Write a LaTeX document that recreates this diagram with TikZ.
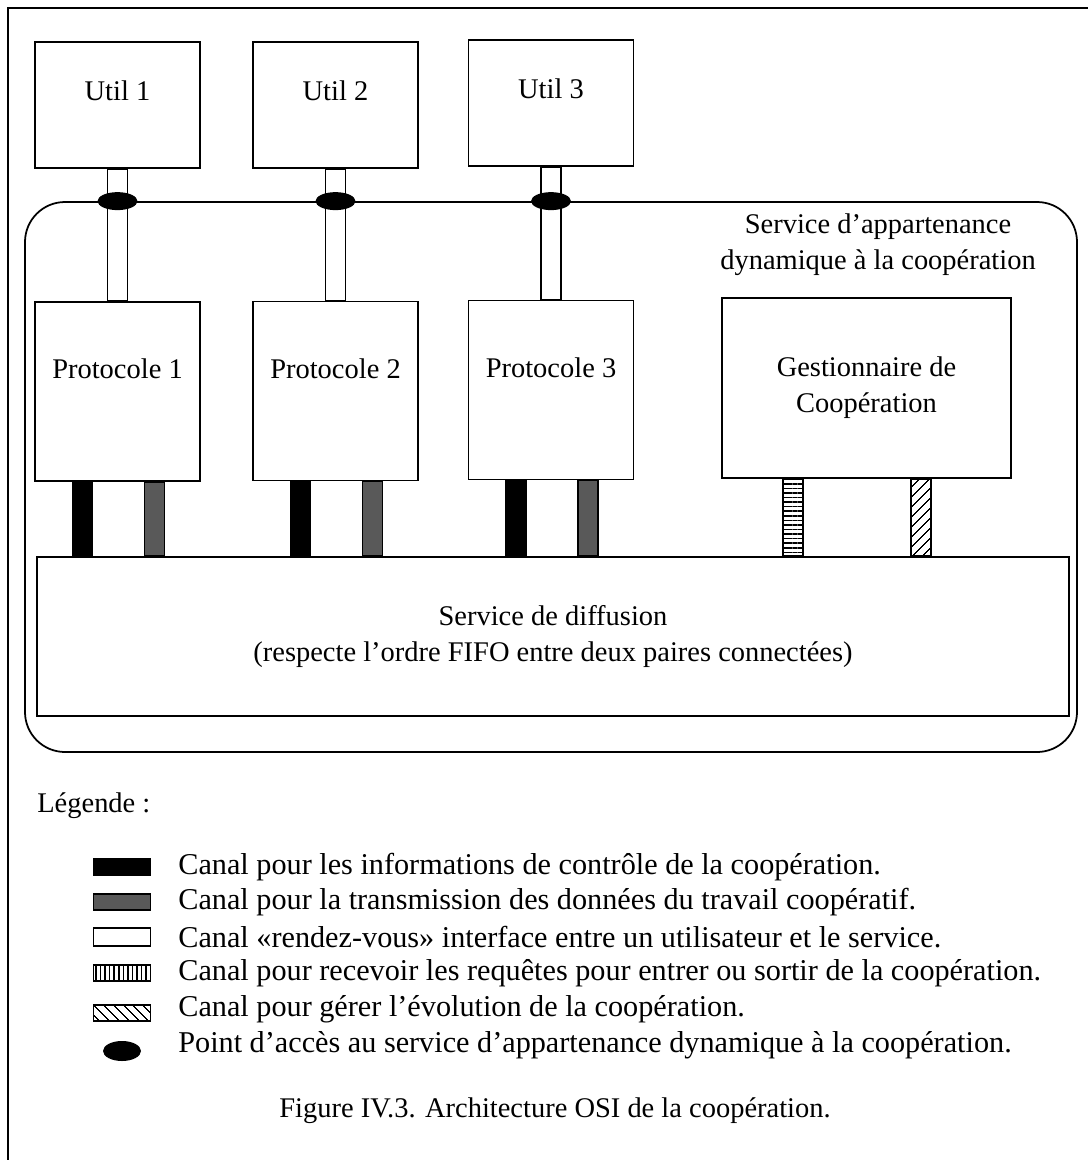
\documentclass[tikz,border=0pt]{standalone}
\usepackage{fontspec}
\setmainfont{Liberation Serif}
\usepackage{tikz}
\usetikzlibrary{positioning, shapes.geometric, patterns.meta}

\begin{document}
\begin{tikzpicture}[
  font=\fontsize{16.2}{20.4}\selectfont,
  box/.style={draw, align=center, line width=1pt, inner sep=0pt},
  util/.style={box, minimum width=3.3cm, minimum height=2.52cm,
    text height=0.36cm, text depth=0.53cm},
  proto/.style={box, minimum width=3.3cm, minimum height=3.58cm,
    text height=0.36cm, text depth=0.87cm},
  member/.style={draw, line width=1pt, rounded corners=0.8cm},
  access/.style={ellipse, fill=black, inner sep=0pt,
    minimum width=0.8cm, minimum height=0.36cm},
  chan/.style={draw, line width=1.1pt},
  ctrl/.style={chan, fill=black},
  data/.style={chan, fill=black!65},
  rdv/.style={chan, fill=white},
  joinchan/.style={chan, pattern={Lines[angle=0, distance=2.6pt, line width=0.9pt]}},
  evolchan/.style={chan, pattern={Lines[angle=45, distance=4pt, line width=0.7pt]}},
  icon/.style={minimum width=1.14cm, minimum height=0.32cm, inner sep=0pt},
  legtext/.style={anchor=west, inner sep=0pt, font=\fontsize{17.2}{20.4}\selectfont}
]
  \useasboundingbox (0,0) rectangle (21.76,-23.2);
  \draw[line width=1pt] (0.16,-23.2) |- (21.76,-0.16);

  % users
  \node[util] (u1) at (2.35,-2.1) {Util 1};
  \node[util] (u2) at (6.71,-2.1) {Util 2};
  \node[util] (u3) at (11.02,-2.06) {Util 3};

  % membership service
  \node[member, minimum width=21.04cm, minimum height=11cm] (svc) at (11.02,-9.54) {};
  \node[align=center] (svclab) at (17.56,-4.9)
    {Service d’appartenance\\dynamique à la coopération};

  \node[proto] (p1) at (2.35,-7.83) {Protocole 1};
  \node[proto] (p2) at (6.71,-7.82) {Protocole 2};
  \node[proto] (p3) at (11.02,-7.8) {Protocole 3};
  \node[box, minimum width=5.78cm, minimum height=3.6cm] (gc) at (17.33,-7.76)
    {Gestionnaire de\\Coopération};

  \node[box, minimum width=20.64cm, minimum height=3.18cm] (diff) at (11.06,-12.73)
    {Service de diffusion\\(respecte l’ordre FIFO entre deux paires connectées)};

  % channels
  \foreach \u/\p in {u1/p1, u2/p2, u3/p3}
    \draw[rdv] ([xshift=-0.2cm]\u.south) rectangle ([xshift=0.2cm]\p.north);
  \foreach \u [count=\i] in {u1, u2, u3}
    \node[access] (a\i) at (svc.north -| \u) {};

  \foreach \p in {p1, p2, p3} {
    \draw[ctrl] ([xshift=-0.9cm]\p.south) rectangle ([xshift=-0.5cm]\p.south |- diff.north);
    \draw[data] ([xshift=0.54cm]\p.south) rectangle ([xshift=0.94cm]\p.south |- diff.north);
  }
  \draw[joinchan] ([xshift=-1.67cm]gc.south) rectangle ([xshift=-1.27cm]gc.south |- diff.north);
  \draw[evolchan] ([xshift=0.89cm]gc.south) rectangle ([xshift=1.29cm]gc.south |- diff.north);

  % legend
  \node[legtext, font=\fontsize{16.2}{20.4}\selectfont] (leg) at (0.74,-16.12) {Légende :};

  \node[icon, ctrl] (k1) at (2.44,-17.34) {};
  \node[icon, data] (k2) at (2.44,-18.04) {};
  \node[icon, rdv, minimum height=0.36cm] (k3) at (2.44,-18.74) {};
  \node[icon, chan, pattern={Lines[angle=90, distance=2.6pt, line width=0.9pt]}] (k4) at (2.44,-19.46) {};
  \node[icon, chan, pattern={Lines[angle=-45, distance=4pt, line width=0.7pt]}] (k5) at (2.44,-20.26) {};
  \node[access, minimum width=0.76cm, minimum height=0.4cm] (k6) at (2.44,-21.02) {};

  \node[legtext] (t1) at (3.56,-17.34) {Canal pour les informations de contrôle de la coopération.};
  \node[legtext] (t2) at (3.56,-18.04) {Canal pour la transmission des données du travail coopératif.};
  \node[legtext] (t3) at (3.56,-18.74) {Canal «rendez-vous» interface entre un utilisateur et le service.};
  \node[legtext] (t4) at (3.56,-19.46) {Canal pour recevoir les requêtes pour entrer ou sortir de la coopération.};
  \node[legtext] (t5) at (3.56,-20.18) {Canal pour gérer l’évolution de la coopération.};
  \node[legtext] (t6) at (3.56,-20.9) {Point d’accès au service d’appartenance dynamique à la coopération.};

  \node (caption) at (11.1,-22.22) {Figure IV.3. Architecture OSI de la coopération.};
\end{tikzpicture}
\end{document}
